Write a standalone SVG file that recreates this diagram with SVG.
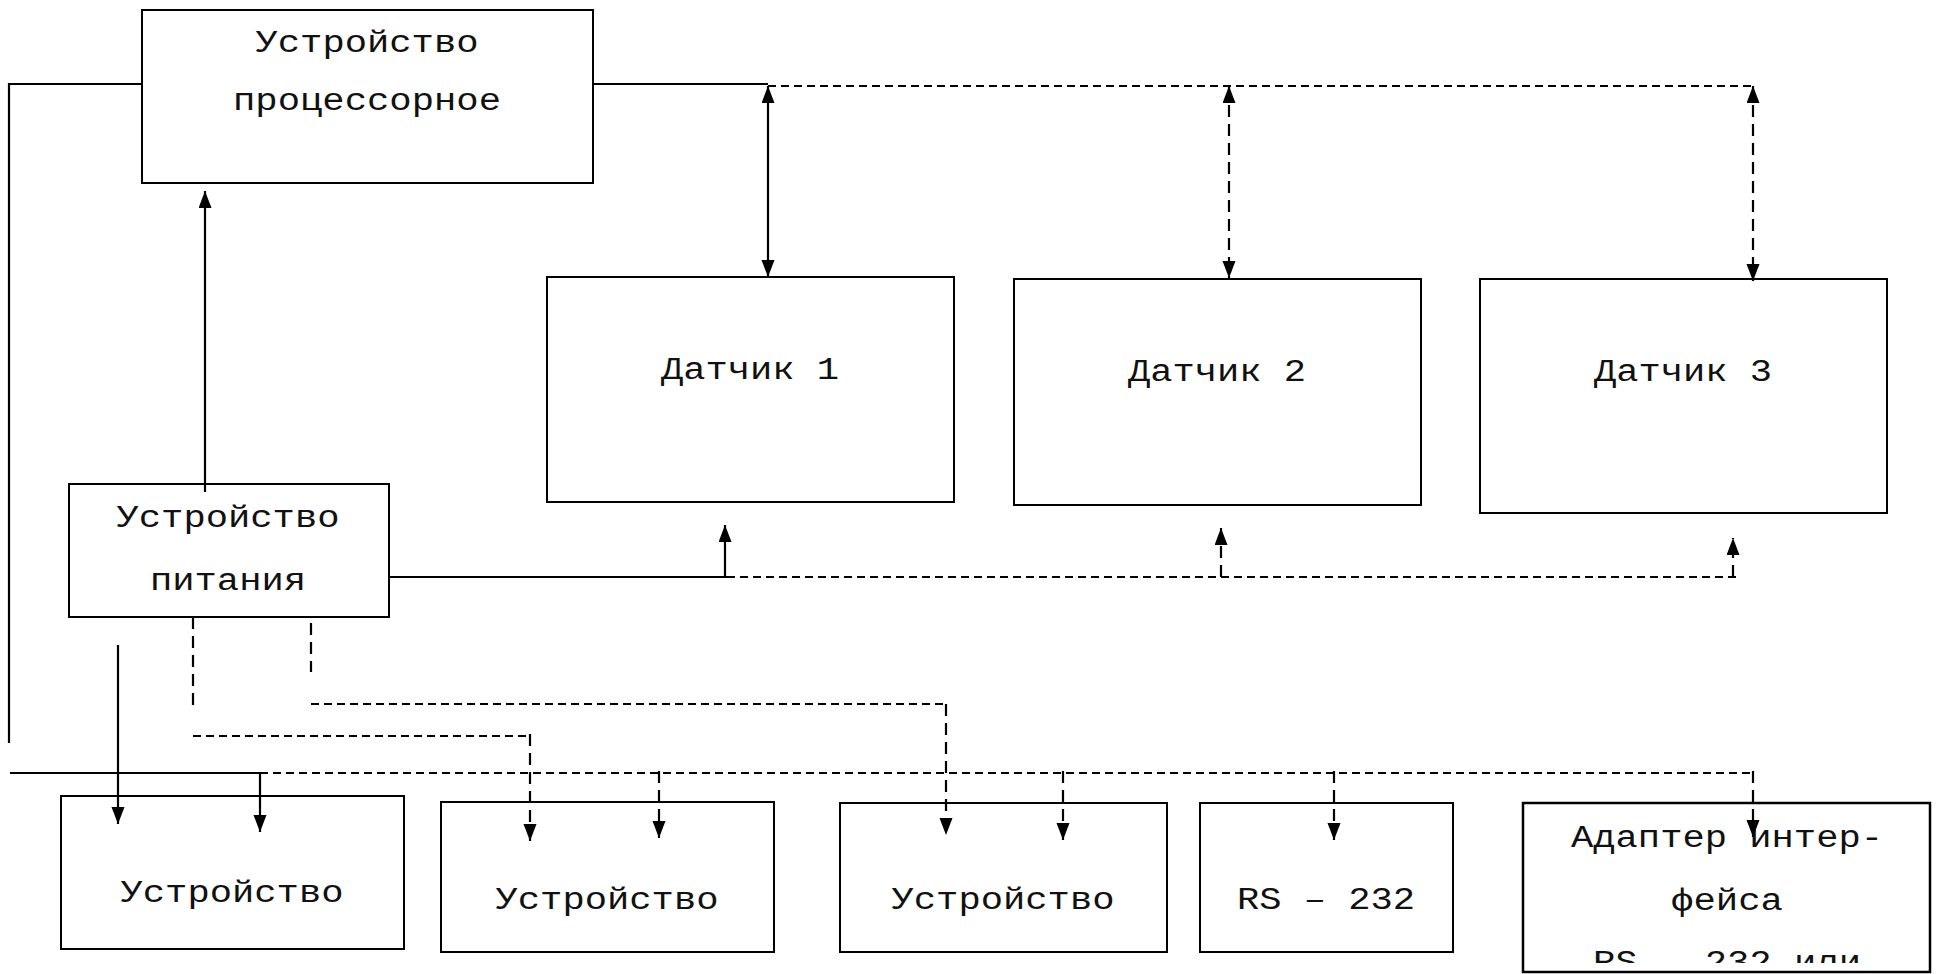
<svg xmlns="http://www.w3.org/2000/svg" width="1936" height="974" viewBox="0 0 1936 974">
<style>
.box{fill:#fff;stroke:#000;stroke-width:2}
.boxb{fill:#fff;stroke:#000;stroke-width:2.5}
.t{font-family:"Liberation Mono","Courier New",monospace;font-size:31px;fill:#111;text-anchor:middle}
.s{fill:none;stroke:#000;stroke-width:2.2}
.dh{fill:none;stroke:#000;stroke-width:2.2;stroke-dasharray:8 5}
.dv{fill:none;stroke:#000;stroke-width:2.2;stroke-dasharray:12 7}
</style>
<defs>
<marker id="ah" markerUnits="userSpaceOnUse" markerWidth="18" markerHeight="14" refX="17" refY="6.5" orient="auto-start-reverse">
<path d="M0,0 L17,6.5 L0,13 Z" fill="#000"/>
</marker>
<clipPath id="clipE"><rect x="1523" y="803" width="407" height="160"/></clipPath>
</defs>
<rect width="1936" height="974" fill="#fff"/>

<g id="proc">
<rect class="box" x="142" y="10" width="451" height="173"/>
<text class="t" x="367" y="52" textLength="223" lengthAdjust="spacingAndGlyphs">Устройство</text>
<text class="t" x="367" y="110" textLength="268" lengthAdjust="spacingAndGlyphs">процессорное</text>
</g>

<g id="sensor1">
<rect class="box" x="547" y="277" width="407" height="225"/>
<text class="t" x="750" y="379" textLength="178" lengthAdjust="spacingAndGlyphs">Датчик 1</text>
</g>
<g id="sensor2">
<rect class="box" x="1014" y="279" width="407" height="226"/>
<text class="t" x="1217" y="381" textLength="178" lengthAdjust="spacingAndGlyphs">Датчик 2</text>
</g>
<g id="sensor3">
<rect class="box" x="1480" y="279" width="407" height="234"/>
<text class="t" x="1683" y="381" textLength="178" lengthAdjust="spacingAndGlyphs">Датчик 3</text>
</g>

<g id="power">
<rect class="box" x="69" y="484" width="320" height="133"/>
<text class="t" x="228" y="527" textLength="223" lengthAdjust="spacingAndGlyphs">Устройство</text>
<text class="t" x="228" y="590" textLength="156" lengthAdjust="spacingAndGlyphs">питания</text>
</g>

<g id="devA">
<rect class="box" x="61" y="796" width="343" height="153"/>
<text class="t" x="232" y="902" textLength="223" lengthAdjust="spacingAndGlyphs">Устройство</text>
</g>
<g id="devB">
<rect class="box" x="441" y="802" width="333" height="150"/>
<text class="t" x="607" y="909" textLength="223" lengthAdjust="spacingAndGlyphs">Устройство</text>
</g>
<g id="devC">
<rect class="box" x="840" y="803" width="327" height="149"/>
<text class="t" x="1003" y="909" textLength="223" lengthAdjust="spacingAndGlyphs">Устройство</text>
</g>
<g id="rs232">
<rect class="box" x="1200" y="803" width="253" height="149"/>
<text class="t" x="1326" y="909" textLength="178" lengthAdjust="spacingAndGlyphs">RS – 232</text>
</g>
<g id="adapter">
<rect class="boxb" x="1523" y="803" width="407" height="169"/>
<g clip-path="url(#clipE)">
<text class="t" x="1727" y="847" textLength="312" lengthAdjust="spacingAndGlyphs">Адаптер интер-</text>
<text class="t" x="1727" y="910" textLength="112" lengthAdjust="spacingAndGlyphs">фейса</text>
<text class="t" x="1727" y="972" textLength="268" lengthAdjust="spacingAndGlyphs">RS – 232 или</text>
</g>
</g>

<g id="connectors">
<path class="s" d="M142,84 H9 V743"/>
<path class="s" d="M593,84 H768"/>
<path class="dh" d="M768,86 H1756"/>
<path class="s" d="M768,86 V277" marker-start="url(#ah)" marker-end="url(#ah)"/>
<path class="dv" d="M1229,86 V278" marker-start="url(#ah)" marker-end="url(#ah)"/>
<path class="dv" d="M1753,86 V281" marker-start="url(#ah)" marker-end="url(#ah)"/>
<path class="s" d="M205,492 V191" marker-end="url(#ah)"/>
<path class="s" d="M389,577 H727"/>
<path class="s" d="M725,577 V525" marker-end="url(#ah)"/>
<path class="dh" d="M727,577 H1736"/>
<path class="dv" d="M1221,577 V528" marker-end="url(#ah)"/>
<path class="dv" d="M1733,577 V538" marker-end="url(#ah)"/>
<path class="s" d="M118,645 V824" marker-end="url(#ah)"/>
<path class="dv" d="M193,617 V705"/>
<path class="dh" d="M193,736 H530"/>
<path class="dv" d="M530,734 V841" marker-end="url(#ah)"/>
<path class="dv" d="M311,623 V672"/>
<path class="dh" d="M311,704 H946"/>
<path class="dv" d="M946,704 V835" marker-end="url(#ah)"/>
<path class="s" d="M10,773 H260 V832" marker-end="url(#ah)"/>
<path class="dh" d="M260,773 H1753"/>
<path class="dv" d="M659,771 V838" marker-end="url(#ah)"/>
<path class="dv" d="M1063,771 V840" marker-end="url(#ah)"/>
<path class="dv" d="M1334,771 V840" marker-end="url(#ah)"/>
<path class="dv" d="M1753,771 V837" marker-end="url(#ah)"/>
</g>
</svg>
